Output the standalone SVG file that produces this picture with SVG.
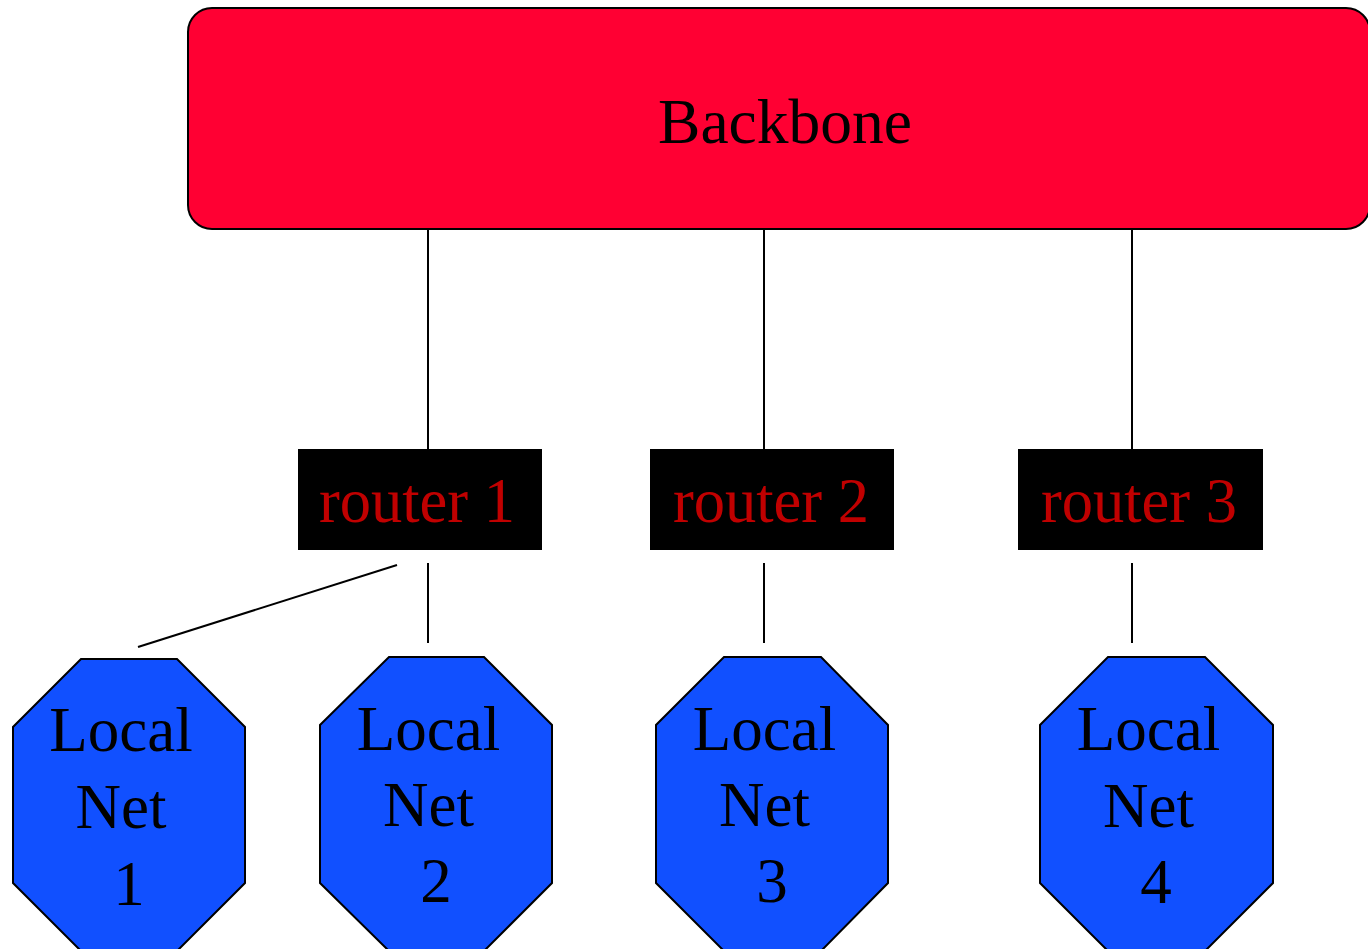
<svg xmlns="http://www.w3.org/2000/svg" width="1368" height="949" viewBox="0 0 1368 949">
<style>
text{font-family:"Liberation Serif","Times New Roman",serif;font-size:63px;text-anchor:middle}
.router rect{fill:#000}
.router text{fill:#c00000;font-size:62.5px}
.net polygon{fill:#1150ff;stroke:#000;stroke-width:2}
.net text{fill:#000}
.edges line{stroke:#000;stroke-width:2}
</style>
<rect width="1368" height="949" fill="#fff"/>
<g id="backbone">
<rect x="188" y="8" width="1182" height="221" rx="24" fill="#ff0033" stroke="#000" stroke-width="2"/>
<text x="785" y="143" style="font-size:63.5px">Backbone</text>
</g>
<g class="edges" id="connectors">
<line x1="428" y1="229" x2="428" y2="449"/>
<line x1="764" y1="229" x2="764" y2="449"/>
<line x1="1132" y1="229" x2="1132" y2="449"/>
<line x1="397" y1="565" x2="138" y2="647"/>
<line x1="428" y1="563" x2="428" y2="643"/>
<line x1="764" y1="563" x2="764" y2="643"/>
<line x1="1132" y1="563" x2="1132" y2="643"/>
</g>
<g id="router1" class="router">
<rect x="298" y="449" width="244" height="101"/>
<text x="417" y="522">router 1</text>
</g>
<g id="router2" class="router">
<rect x="650" y="449" width="244" height="101"/>
<text x="771" y="522">router 2</text>
</g>
<g id="router3" class="router">
<rect x="1018" y="449" width="245" height="101"/>
<text x="1139" y="522">router 3</text>
</g>
<g id="net1" class="net">
<polygon points="81,659 177,659 245,727 245,883 177,951 81,951 13,883 13,727"/>
<text x="121" y="751">Local</text>
<text x="121" y="828">Net</text>
<text x="129" y="905">1</text>
</g>
<g id="net2" class="net">
<polygon points="389,657 484,657 552,725 552,883 484,951 389,951 320,883 320,725"/>
<text x="428.5" y="750">Local</text>
<text x="428.5" y="826">Net</text>
<text x="436" y="902">2</text>
</g>
<g id="net3" class="net">
<polygon points="724,657 821,657 888,725 888,883 821,951 724,951 656,883 656,725"/>
<text x="764.5" y="750">Local</text>
<text x="764.5" y="826">Net</text>
<text x="772" y="902">3</text>
</g>
<g id="net4" class="net">
<polygon points="1108,657 1205,657 1273,725 1273,883 1205,951 1108,951 1040,883 1040,725"/>
<text x="1148.5" y="750">Local</text>
<text x="1148.5" y="827">Net</text>
<text x="1156" y="903">4</text>
</g>
</svg>
